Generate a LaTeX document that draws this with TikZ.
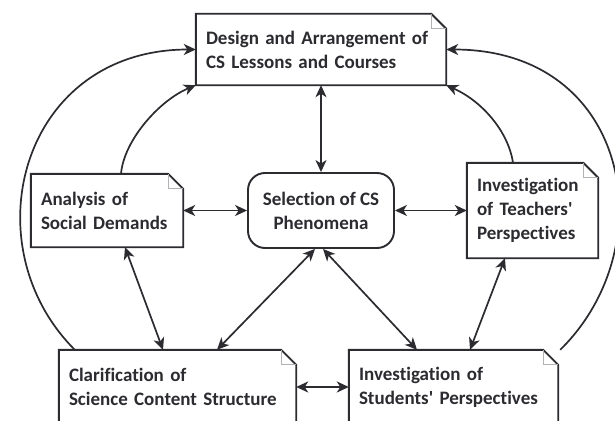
\documentclass[tikz,border=0pt]{standalone}
\usepackage{fontspec}
\setmainfont{Carlito}[Ligatures={TeX,NoCommon}]
\usetikzlibrary{positioning,arrows.meta}
\definecolor{ink}{HTML}{2B2B30}
\tikzset{
box/.style={font=\bfseries\fontsize{19}{24}\selectfont, text=ink, inner xsep=10pt, inner ysep=0pt},
note/.style={box, align=left, text width=#1},
noteline/.style={draw=ink, line width=1.9pt},
fold/.style={draw=gray!60, line width=0.8pt},
link/.style={draw=ink, line width=1.7pt, {Stealth[length=12pt,width=11pt,inset=3.5pt]}-{Stealth[length=12pt,width=11pt,inset=3.5pt]}},
feed/.style={draw=ink, line width=1.7pt, -{Stealth[length=12pt,width=11pt,inset=3.5pt]}}
}
\newcommand{\notebox}[1]{
  \draw[noteline] (#1.north west) -- ([xshift=-15pt]#1.north east) -- ([yshift=-15pt]#1.north east) -- (#1.south east) -- (#1.south west) -- cycle;
  \draw[fold] ([xshift=-15pt]#1.north east) |- ([yshift=-15pt]#1.north east);
}

\begin{document}
\begin{tikzpicture}[x=1pt,y=-1pt]
\clip (0,0) rectangle (615,420);
\fill[white] (0,0) rectangle (615,420);

\node[note=230pt, minimum height=71pt] (design) at (321,49.5) {Design and Arrangement of\\CS Lessons and Courses};
\node[note=132pt, minimum height=73pt] (ana) at (107,210.5) {Analysis of\\Social Demands};
\node[box, align=center, draw=ink, line width=1.9pt, rounded corners=17pt, minimum width=146pt, minimum height=75pt] (sel) at (321,210.5) {Selection of CS\\Phenomena};
\node[note=111pt, minimum height=95pt] (tea) at (532.5,210.5) {Investigation\\of Teachers\textquotesingle\\Perspectives};
\node[note=217pt, minimum height=74pt] (clar) at (177.5,387) {Clarification of\\Science Content Structure};
\node[note=189pt, minimum height=74pt] (stu) at (453.5,387) {Investigation of\\Students\textquotesingle\ Perspectives};
\foreach \n in {design, ana, tea, clar, stu}{
  \notebox{\n}
}

\draw[link] (design) -- (sel);
\draw[link] (ana) -- (sel);
\draw[link] (sel) -- (tea);
\draw[link] (clar) -- (stu);
\draw[link] ([xshift=18pt]ana.south) -- ([xshift=-14.5pt]clar.north);
\draw[link] ([xshift=-6pt]sel.south) -- ([xshift=39.5pt]clar.north);
\draw[link] ([xshift=2pt]sel.south) -- ([xshift=-36.5pt]stu.north);
\draw[link] ([xshift=-27.5pt]tea.south) -- ([xshift=16.5pt]stu.north);

\draw[feed] ([xshift=14pt]ana.north) .. controls +(3,-34) and +(-36,15) .. (design.south west);
\draw[feed] ([xshift=-19.5pt]tea.north) .. controls +(-5,-33) and +(34,15) .. (design.south east);
\draw[feed] ([xshift=16pt]clar.north west) .. controls +(-105,-105) and +(-175,0) .. (design.west);
\draw[feed] ([xshift=2pt]stu.north east) .. controls +(105,-103) and +(184,0) .. (design.east);
\end{tikzpicture}
\end{document}
